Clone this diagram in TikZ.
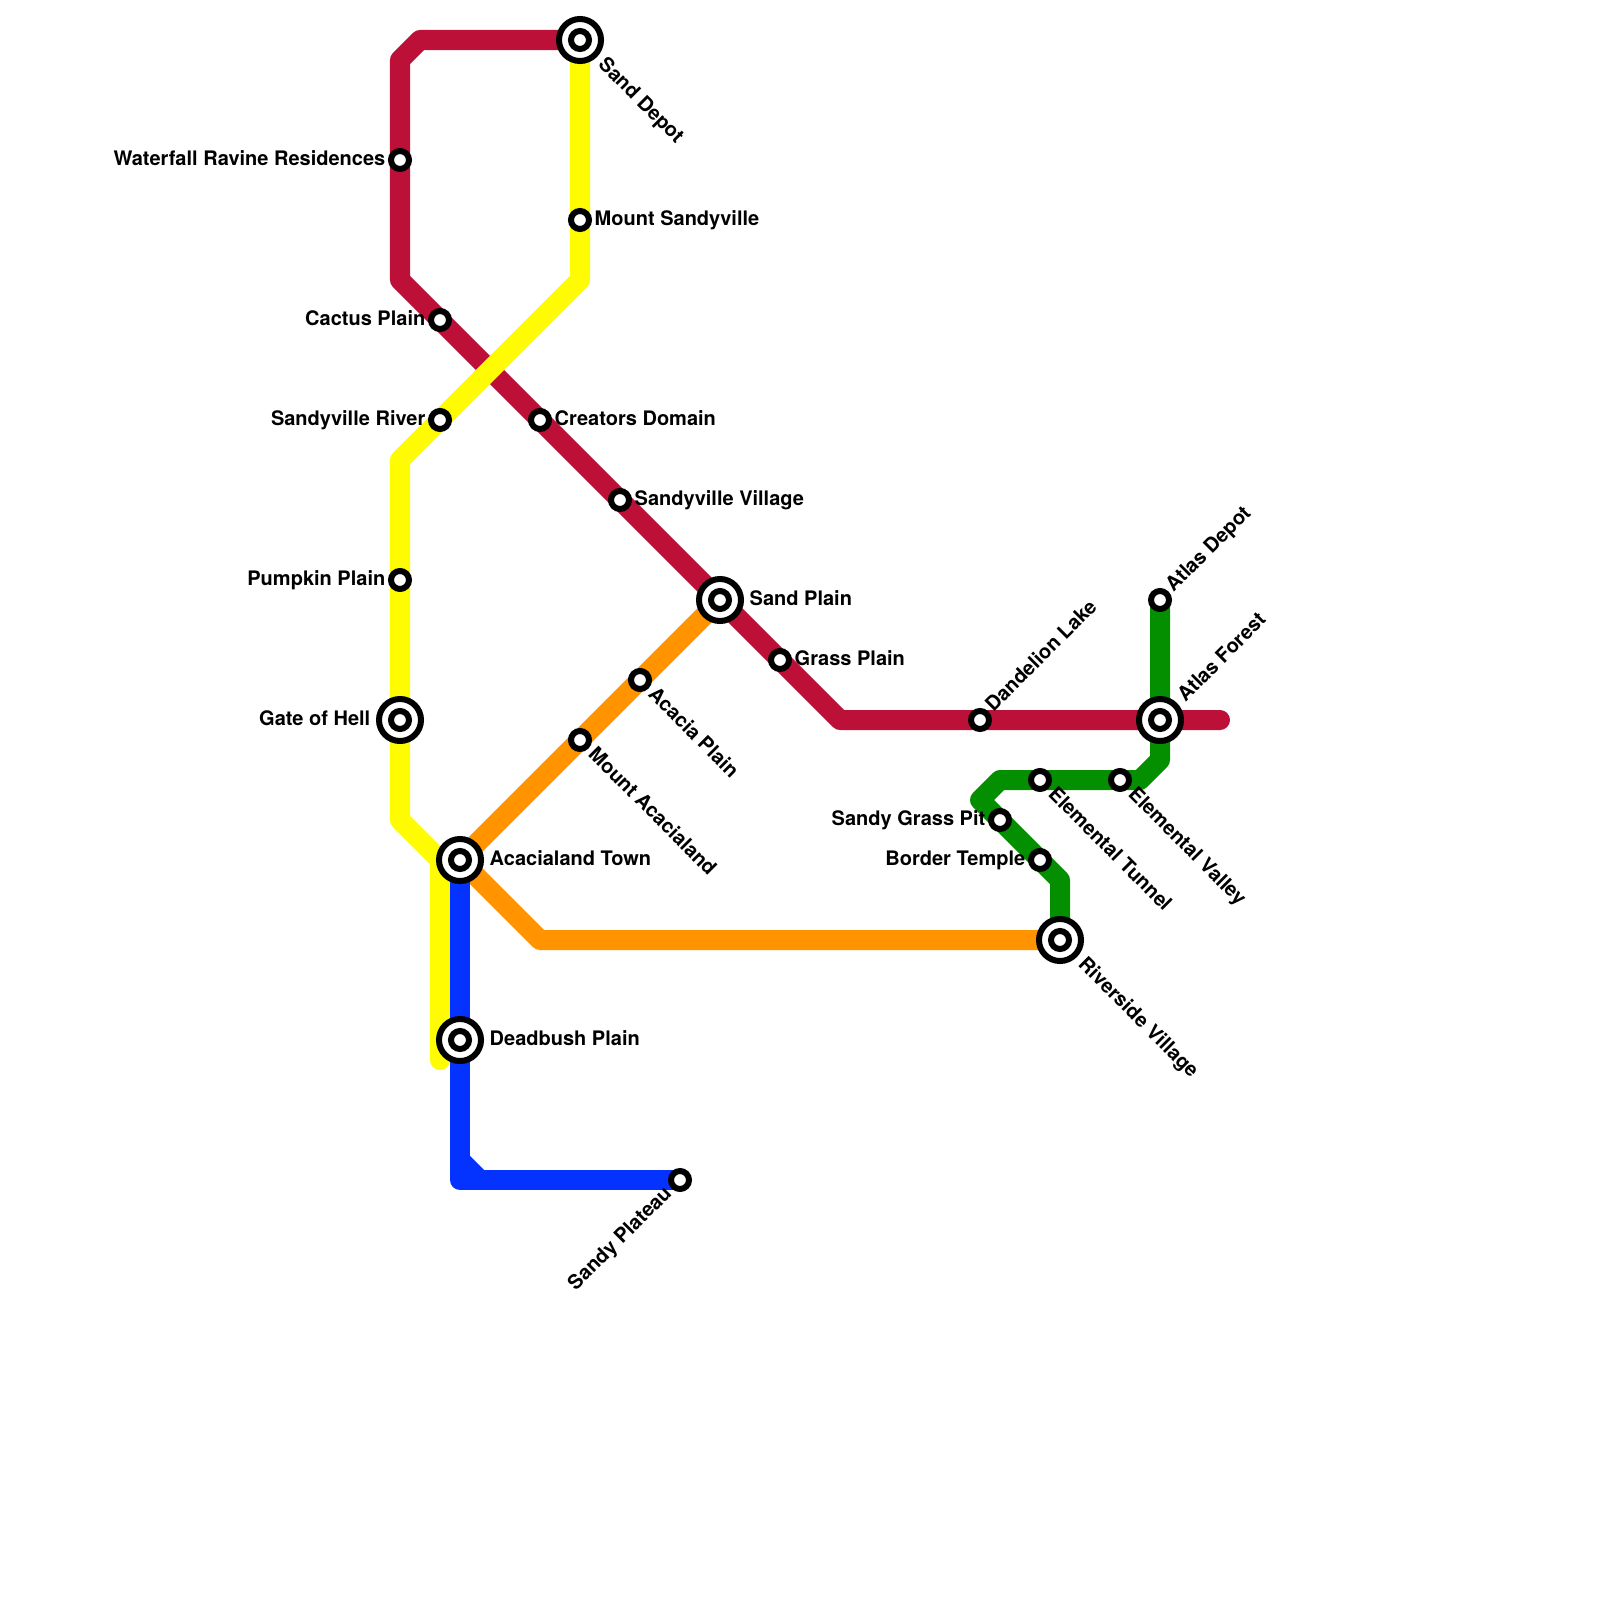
\documentclass[tikz,border=0pt]{standalone}
\usepackage{fontspec}
\setmainfont{TeX Gyre Heros}
\usetikzlibrary{backgrounds}
\definecolor{redline}{RGB}{189,16,56}
\definecolor{yellowline}{RGB}{255,251,0}
\definecolor{orangeline}{RGB}{255,147,0}
\definecolor{blueline}{RGB}{4,51,255}
\definecolor{greenline}{RGB}{4,143,0}
\tikzset{
	metro/.style={line width=2mm, line cap=round, line join=round},
	stn/.style={circle, draw=black, fill=white, line width=.6mm, minimum size=1.8mm, inner sep=0pt, outer sep=0pt},
	hub/.style={circle, draw=black, fill=white, line width=.6mm, minimum size=4.2mm, inner sep=0pt, outer sep=0pt},
	lbl/.style={font=\bfseries\fontsize{5.69pt}{6pt}\selectfont, inner sep=0pt, text height=1.44mm, text depth=0pt},
	lblw/.style={lbl, anchor=west},
	lble/.style={lbl, anchor=east},
	lblup/.style={lbl, anchor=west, rotate=45},
	lbldn/.style={lbl, anchor=west, rotate=-45}
}
\begin{document}
\begin{tikzpicture}[x=.01cm, y=-.01cm]
	% Window of the picture
	\useasboundingbox (0,0) rectangle (1600,1600);
	
	% Interchange stations
	\node[hub] (sandDepotO) at (580,40) {};
	\node[hub] (sandPlainO) at (720,600) {};
	\node[hub] (atlasForestO) at (1160,720) {};
	\node[hub] (gateHellO) at (400,720) {};
	\node[hub] (acaciaTownO) at (460,860) {};
	\node[hub] (riversideO) at (1060,940) {};
	\node[hub] (deadbushO) at (460,1040) {};
	\node[stn] (sandDepot) at (580,40) {};
	\node[stn] (sandPlain) at (720,600) {};
	\node[stn] (atlasForest) at (1160,720) {};
	\node[stn] (gateHell) at (400,720) {};
	\node[stn] (acaciaTown) at (460,860) {};
	\node[stn] (riverside) at (1060,940) {};
	\node[stn] (deadbush) at (460,1040) {};
	
	% Plain stations
	\node[stn] (waterfall) at (400,160) {};
	\node[stn] (mtSandy) at (580,220) {};
	\node[stn] (cactus) at (440,320) {};
	\node[stn] (sandyRiver) at (440,420) {};
	\node[stn] (creators) at (540,420) {};
	\node[stn] (sandyVillage) at (620,500) {};
	\node[stn] (pumpkin) at (400,580) {};
	\node[stn] (atlasDepot) at (1160,600) {};
	\node[stn] (grassPlain) at (780,660) {};
	\node[stn] (acaciaPlain) at (640,680) {};
	\node[stn] (dandelion) at (980,720) {};
	\node[stn] (mtAcacia) at (580,740) {};
	\node[stn] (elemTunnel) at (1040,780) {};
	\node[stn] (elemValley) at (1120,780) {};
	\node[stn] (grassPit) at (1000,820) {};
	\node[stn] (border) at (1040,860) {};
	\node[stn] (plateau) at (680,1180) {};
	
	% Bends of the lines
	\coordinate (redA) at (420,40);
	\coordinate (redB) at (400,60);
	\coordinate (redC) at (400,280);
	\coordinate (redD) at (840,720);
	\coordinate (redE) at (1220,720);
	\coordinate (yelA) at (580,280);
	\coordinate (yelB) at (400,460);
	\coordinate (yelC) at (400,820);
	\coordinate (yelD) at (440,860);
	\coordinate (yelE) at (440,1060);
	\coordinate (oraA) at (540,940);
	\coordinate (bluA) at (460,1180);
	\coordinate (bluB) at (460,1160);
	\coordinate (bluC) at (480,1180);
	\coordinate (greA) at (1160,760);
	\coordinate (greB) at (1140,780);
	\coordinate (greC) at (1000,780);
	\coordinate (greD) at (980,800);
	\coordinate (greE) at (1060,880);
	
	% Lines, under the stations
	\begin{scope}[on background layer]
		\draw[metro, redline] (sandDepot.center) -- (redA) -- (redB) -- (redC) -- (redD) -- (redE);
		\draw[metro, yellowline] (sandDepot.center) -- (yelA) -- (yelB) -- (yelC) -- (yelD) -- (yelE);
		\draw[metro, orangeline] (sandPlain.center) -- (acaciaTown.center) -- (oraA) -- (riverside.center);
		\draw[metro, blueline] (acaciaTown.center) -- (bluA) -- (plateau.center);
		\draw[metro, blueline] (bluB) -- (bluC);
		\draw[metro, greenline] (atlasDepot.center) -- (greA) -- (greB) -- (greC) -- (greD) -- (greE) -- (riverside.center);
	\end{scope}
	
	% Labels to the left
	\node[lble] (waterfallT) at (386,158) {Waterfall Ravine Residences};
	\node[lble] (cactusT) at (426,318) {Cactus Plain};
	\node[lble] (sandyRiverT) at (426,418) {Sandyville River};
	\node[lble] (pumpkinT) at (386,578) {Pumpkin Plain};
	\node[lble] (gateHellT) at (371,718) {Gate of Hell};
	\node[lble] (grassPitT) at (986,818) {Sandy Grass Pit};
	\node[lble] (borderT) at (1026,858) {Border Temple};
	
	% Labels to the right
	\node[lblw] (mtSandyT) at (594,218) {Mount Sandyville};
	\node[lblw] (creatorsT) at (554,418) {Creators Domain};
	\node[lblw] (sandyVillageT) at (634,498) {Sandyville Village};
	\node[lblw] (sandPlainT) at (749,598) {Sand Plain};
	\node[lblw] (grassPlainT) at (794,658) {Grass Plain};
	\node[lblw] (acaciaTownT) at (489,858) {Acacialand Town};
	\node[lblw] (deadbushT) at (489,1038) {Deadbush Plain};
	
	% Slanted labels
	\node[lblup] (atlasDepotT) at (1168,588) {Atlas Depot};
	\node[lblup] (dandelionT) at (988,708) {Dandelion Lake};
	\node[lblup] (atlasForestT) at (1180,698) {Atlas Forest};
	\node[lbldn] (sandDepotT) at (602,60) {Sand Depot};
	\node[lbldn] (acaciaPlainT) at (652,690) {Acacia Plain};
	\node[lbldn] (mtAcaciaT) at (592,750) {Mount Acacialand};
	\node[lbldn] (elemTunnelT) at (1052,790) {Elemental Tunnel};
	\node[lbldn] (elemValleyT) at (1132,790) {Elemental Valley};
	\node[lbldn] (riversideT) at (1082,960) {Riverside Village};
	\node[lbl, anchor=east, rotate=45] (plateauT) at (668,1189) {Sandy Plateau};
\end{tikzpicture}
\end{document}
